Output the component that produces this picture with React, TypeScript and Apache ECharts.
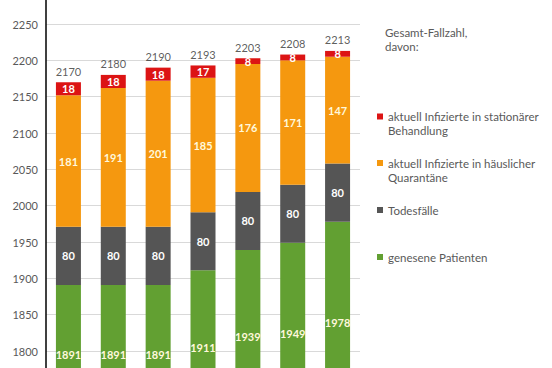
import React, { useEffect, useRef } from 'react';
import * as echarts from 'echarts';

const categories = ['1', '2', '3', '4', '5', '6', '7'];
const recovered = [1891, 1891, 1891, 1911, 1939, 1949, 1978];
const deaths = [80, 80, 80, 80, 80, 80, 80];
const quarantine = [181, 191, 201, 185, 176, 171, 147];
const hospital = [18, 18, 18, 17, 8, 8, 8];
const totals = [2170, 2180, 2190, 2193, 2203, 2208, 2213];
const shownTicks = [1800, 1850, 1900, 1950, 2000, 2050, 2100, 2150, 2200, 2250];

const nameHospital = 'aktuell Infizierte in stationärer\nBehandlung';
const nameQuarantine = 'aktuell Infizierte in häuslicher\nQuarantäne';
const nameDeaths = 'Todesfälle';
const nameRecovered = 'genesene Patienten';
const titleLine1 = 'Gesamt-Fallzahl,';
const titleLine2 = 'davon:';

const C_RED = '#dc1414';
const C_ORANGE = '#f5980f';
const C_GRAY = '#555555';
const C_GREEN = '#62a032';
const TXT = '#595959';

export default function App() {
  const ref = useRef<HTMLDivElement>(null);
  useEffect(() => {
    if (!ref.current) return;
    const chart = echarts.init(ref.current, undefined, { renderer: 'svg' });
    const inside = (color: string) => ({
      show: true,
      position: 'inside',
      color,
      fontSize: 11,
      fontWeight: 'bold',
      fontFamily: 'Lato',
    });
    const textStyle = { fontSize: 11.5, lineHeight: 13, fontWeight: 'normal', color: TXT, fontFamily: 'Lato' };
    const legendBase = (name: string, top: number) => ({
      data: [name],
      orient: 'vertical',
      left: 377,
      top,
      padding: 0,
      icon: 'rect',
      itemWidth: 6,
      itemHeight: 6,
      selectedMode: false,
      formatter: (n: string) => n.split('\n')[0],
      textStyle,
    });
    const line = (text: string, left: number, top: number) => ({
      text,
      left,
      top,
      padding: 0,
      textStyle,
    });
    chart.setOption({
      animation: false,
      backgroundColor: '#ffffff',
      textStyle: { fontFamily: 'Lato' },
      title: [
        line(titleLine1, 385, 26),
        line(titleLine2, 385, 40),
        line(nameHospital.split('\n')[1], 388, 124),
        line(nameQuarantine.split('\n')[1], 388, 170.5),
      ],
      legend: [
        legendBase(nameHospital, 110),
        legendBase(nameQuarantine, 156.5),
        legendBase(nameDeaths, 203.5),
        legendBase(nameRecovered, 250.5),
      ],
      grid: {
        left: 46,
        right: 192,
        top: -12.3,
        bottom: -55.7,
        containLabel: false,
        outerBoundsMode: 'none',
      },
      xAxis: {
        type: 'category',
        data: categories,
        axisLine: { show: false },
        axisTick: { show: false },
        axisLabel: { show: false },
      },
      yAxis: {
        type: 'value',
        min: 1700,
        max: 2300,
        interval: 50,
        axisLine: { show: true, lineStyle: { color: '#000000', width: 1.5 } },
        axisTick: { show: false },
        axisLabel: {
          color: TXT,
          fontSize: 11,
          margin: 8,
          fontFamily: 'Lato',
          formatter: (v: number) => (shownTicks.indexOf(v) >= 0 ? String(v) : ''),
        },
        splitLine: { lineStyle: { color: '#d9d9d9', width: 1 } },
      },
      series: [
        {
          name: nameRecovered,
          type: 'bar',
          stack: 'total',
          data: recovered,
          barWidth: 25,
          itemStyle: { color: C_GREEN },
          label: inside('#fff8dc'),
        },
        {
          name: nameDeaths,
          type: 'bar',
          stack: 'total',
          data: deaths,
          itemStyle: { color: C_GRAY },
          label: inside('#ffffff'),
        },
        {
          name: nameQuarantine,
          type: 'bar',
          stack: 'total',
          data: quarantine,
          itemStyle: { color: C_ORANGE },
          label: inside('#fff8dc'),
        },
        {
          name: nameHospital,
          type: 'bar',
          stack: 'total',
          data: hospital,
          itemStyle: { color: C_RED },
          label: inside('#ffffff'),
        },
        {
          name: 'Gesamt',
          type: 'scatter',
          data: totals,
          symbolSize: 1,
          itemStyle: { color: 'rgba(0,0,0,0)' },
          z: 5,
          label: {
            show: true,
            position: 'top',
            distance: 5,
            color: '#333333',
            fontSize: 11,
            fontFamily: 'Lato',
          },
        },
      ],
    });
    return () => chart.dispose();
  }, []);
  return (
    <div
      ref={ref}
      style={{ position: 'fixed', left: 0, top: 0, width: 552, height: 368 }}
    />
  );
}
